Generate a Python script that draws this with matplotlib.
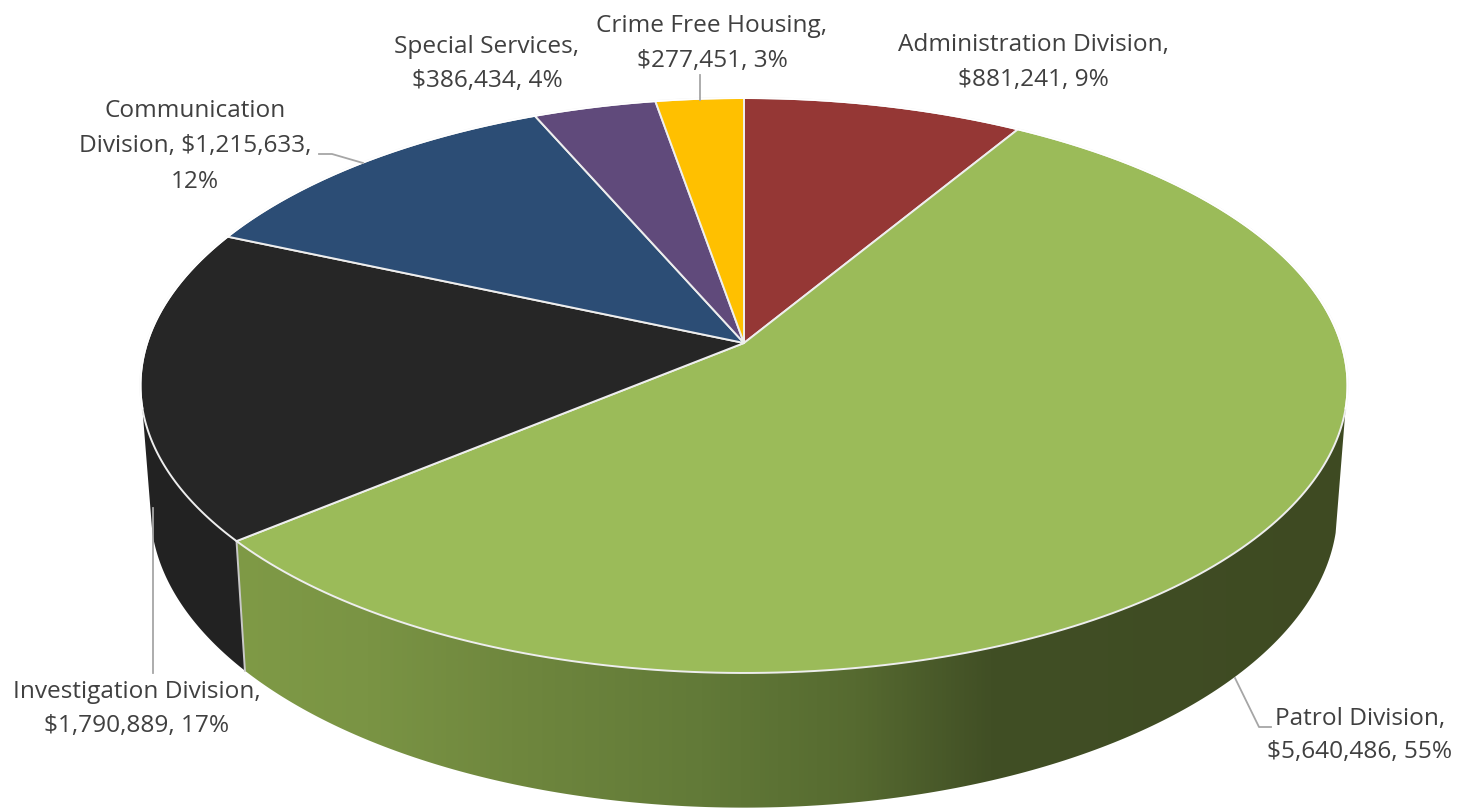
import numpy as np
import matplotlib
matplotlib.use('Agg')
import matplotlib.pyplot as plt
from matplotlib.colors import LinearSegmentedColormap
from matplotlib.patches import Polygon

plt.rcParams['font.family'] = ['Open Sans', 'DejaVu Sans']

# data, clockwise from 12 o'clock
divisions = ['Administration Division', 'Patrol Division', 'Investigation Division',
             'Communication Division', 'Special Services', 'Crime Free Housing']
budget = [881241, 5640486, 1790889, 1215633, 386434, 277451]
percent = [9, 55, 17, 12, 4, 3]
colors = ['#953735', '#9bbb59', '#262626', '#2c4d75', '#604a7b', '#ffc000']

# label text is broken by hand like in the original
label_lines = [
    ['Administration Division,', '$881,241, 9%'],
    ['Patrol Division,', '$5,640,486, 55%'],
    ['Investigation Division,', '$1,790,889, 17%'],
    ['Communication', 'Division, $1,215,633,', '12%'],
    ['Special Services,', '$386,434, 4%'],
    ['Crime Free Housing,', '$277,451, 3%'],
]
label_x = [1033, 1360, 137, 195, 487, 712]
label_y = [[45, 80], [719, 752], [692, 726], [111, 146, 182], [47, 81], [26, 61]]

# leader lines
leaders = [
    ([1235, 1259, 1271], [678, 727, 727]),
    ([153, 153], [508, 673]),
    ([319, 332, 363], [154, 154, 163]),
    ([700, 700], [75, 100]),
]

# perspective of the pie, in pixels
K = 0.1478
CX = 744


def top_rim(theta):
    u, v = np.sin(theta), np.cos(theta)
    w = 1 + K * v
    return CX + 596.9 * u / w, 343 - 281.2 * v / w


def low_rim(theta):
    u, v = np.sin(theta), np.cos(theta)
    w = 1 + K * v
    return CX + 587 * u / w, 465 - 292 * v / w


fig = plt.figure(figsize=(14.75, 8.09), dpi=100)
ax = fig.add_axes([0, 0, 1, 1])

edges = np.cumsum([0] + budget) / sum(budget) * 2 * np.pi

# side walls first: patrol (gradient) and investigation
side_right = np.radians(103)
side_left = np.radians(257)
split = edges[2]

t = np.linspace(side_right, split, 200)
x1, y1 = top_rim(t)
x2, y2 = low_rim(t[::-1])
patrol_side = Polygon(np.column_stack([np.r_[x1, x2], np.r_[y1, y2]]), closed=True,
                      facecolor='none', edgecolor='none')
ax.add_patch(patrol_side)
cmap = LinearSegmentedColormap.from_list('side', [
    (0.0, '#7f9a46'), (0.12, '#7a9444'), (0.25, '#6f873e'), (0.42, '#627a38'),
    (0.56, '#566a30'), (0.68, '#414f25'), (1.0, '#3e4a22')])
img = ax.imshow(np.linspace(0, 1, 512).reshape(1, -1), cmap=cmap, aspect='auto',
                extent=[233, 1347, 809, 380], zorder=1)
img.set_clip_path(patrol_side)

t = np.linspace(split, side_left, 60)
x1, y1 = top_rim(t)
x2, y2 = low_rim(t[::-1])
ax.add_patch(Polygon(np.column_stack([np.r_[x1, x2], np.r_[y1, y2]]), closed=True,
                     facecolor='#222222', edgecolor='none', zorder=1))

# divider between the two side walls
ax.plot(*zip(top_rim(split), low_rim(split)), color='#c8c8c8', lw=1.4, zorder=2)

# top face
for i in range(len(budget)):
    t = np.linspace(edges[i], edges[i + 1], 200)
    x, y = top_rim(t)
    pts = np.column_stack([np.r_[CX, x], np.r_[343, y]])
    ax.add_patch(Polygon(pts, closed=True, facecolor=colors[i], edgecolor='#eeeeee',
                         lw=1.4, zorder=3, joinstyle='round'))

# mask the grey outline along the back of the rim
t = np.linspace(side_left, 2 * np.pi + side_right, 500)
x, y = top_rim(t)
ax.plot(x, y, color='white', lw=1.4, zorder=4)

for xs, ys in leaders:
    ax.plot(xs, ys, color='#a6a6a6', lw=1.3, zorder=5)

for i in range(len(label_lines)):
    for line, yy in zip(label_lines[i], label_y[i]):
        ax.text(label_x[i], yy, line, ha='center', va='center', fontsize=17.6,
                color='#404040', zorder=6)

ax.set_xlim(0, 1475)
ax.set_ylim(809, 0)
ax.axis('off')
fig.savefig('out.png', dpi=100)
